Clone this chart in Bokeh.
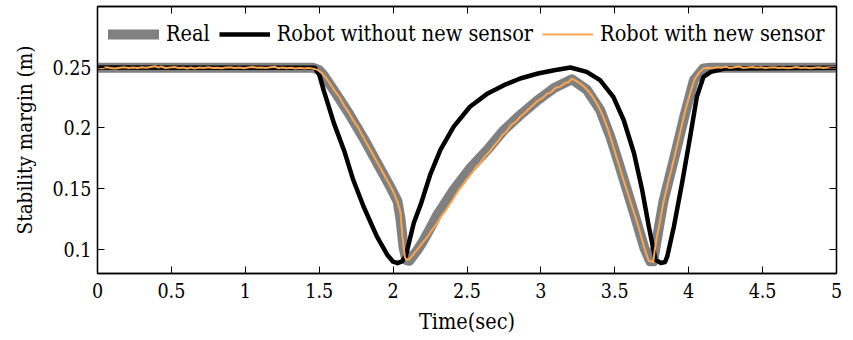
from bokeh.plotting import figure
from bokeh.models import Range1d, LinearAxis, FixedTicker, Legend, LegendItem
from bokeh.embed import file_html
from bokeh.resources import INLINE

# ---- tick positions and labels ----
x_ticks = [0, 0.5, 1, 1.5, 2, 2.5, 3, 3.5, 4, 4.5, 5]
x_tick_labels = ["0", "0.5", "1", "1.5", "2", "2.5", "3", "3.5", "4", "4.5", "5"]
y_ticks = [0.1, 0.15, 0.2, 0.25]
y_tick_labels = ["0.1", "0.15", "0.2", "0.25"]

# ---- measured stability margin (Real) ----
real_t = [0.0, 1.46, 1.50, 1.53, 1.60, 1.70, 1.80, 1.90, 1.98, 2.03, 2.05, 2.07,
          2.09, 2.11, 2.16, 2.20, 2.25, 2.30, 2.41, 2.52, 2.64, 2.75, 2.86, 2.98,
          3.09, 3.21, 3.31, 3.40, 3.47, 3.52, 3.63, 3.70, 3.74, 3.76, 3.79, 3.83,
          3.90, 3.97, 4.035, 4.10, 4.15, 5.0]
real_m = [0.2495, 0.2495, 0.2475, 0.2434, 0.2308, 0.2120, 0.1915, 0.1693, 0.1516,
          0.1395, 0.1250, 0.1020, 0.0910, 0.0905, 0.0985, 0.1060, 0.1170, 0.1285,
          0.1490, 0.1665, 0.1822, 0.1982, 0.2106, 0.2230, 0.2328, 0.2400, 0.2315,
          0.2150, 0.1927, 0.1736, 0.1298, 0.1010, 0.0900, 0.0900, 0.1120, 0.1400,
          0.1740, 0.2092, 0.2393, 0.2490, 0.2495, 0.2495]

# ---- estimate of the robot without the new sensor ----
old_t = [0.0, 1.47, 1.50, 1.53, 1.60, 1.67, 1.73, 1.80, 1.89, 1.96, 2.00, 2.03,
         2.06, 2.085, 2.14, 2.19, 2.25, 2.32, 2.41, 2.52, 2.64, 2.75, 2.86, 2.98,
         3.09, 3.20, 3.31, 3.40, 3.49, 3.56, 3.63, 3.685, 3.73, 3.775, 3.81, 3.84,
         3.855, 3.90, 3.955, 4.01, 4.055, 4.10, 4.15, 4.25, 5.0]
old_m = [0.2497, 0.2495, 0.2440, 0.2311, 0.2037, 0.1808, 0.1572, 0.1352, 0.1106,
         0.0955, 0.0897, 0.0885, 0.0900, 0.0941, 0.1216, 0.1380, 0.1610, 0.1818,
         0.2010, 0.2174, 0.2284, 0.2352, 0.2407, 0.2448, 0.2475, 0.2497, 0.2461,
         0.2393, 0.2256, 0.2065, 0.1791, 0.1489, 0.1188, 0.0914, 0.0887, 0.0895,
         0.0941, 0.1188, 0.1544, 0.1927, 0.2256, 0.2420, 0.2461, 0.2490, 0.2495]

# ---- estimate of the robot with the new sensor ----
new_t = [0.00, 0.03, 0.06, 0.09, 0.12, 0.15, 0.18, 0.21, 0.24, 0.27, 0.30, 0.33,
         0.36, 0.39, 0.41, 0.43, 0.46, 0.49, 0.52, 0.55, 0.58, 0.61, 0.63, 0.66,
         0.69, 0.72, 0.75, 0.78, 0.81, 0.84, 0.87, 0.90, 0.93, 0.96, 0.99, 1.02,
         1.05, 1.08, 1.11, 1.14, 1.17, 1.20, 1.22, 1.25, 1.28, 1.31, 1.34, 1.37,
         1.40, 1.43, 1.46, 1.49,
         1.52, 1.55, 1.58, 1.61, 1.64, 1.67, 1.70, 1.73, 1.76, 1.79, 1.82, 1.85,
         1.88, 1.91, 1.94, 1.97, 2.00, 2.03, 2.05, 2.06, 2.07, 2.08, 2.09, 2.11,
         2.14, 2.17, 2.20, 2.23, 2.26, 2.29, 2.32, 2.35, 2.38, 2.41, 2.44, 2.47,
         2.50, 2.53, 2.56, 2.59, 2.62, 2.65, 2.68, 2.71, 2.74, 2.77, 2.80, 2.83,
         2.86, 2.89, 2.92, 2.95, 2.98, 3.01, 3.04, 3.07, 3.10, 3.13, 3.16, 3.19,
         3.21, 3.24, 3.27, 3.30, 3.33, 3.36, 3.39, 3.42, 3.45, 3.48, 3.51, 3.54,
         3.57, 3.60, 3.63, 3.66, 3.69, 3.71, 3.73, 3.76, 3.77, 3.78, 3.80, 3.83,
         3.86, 3.89, 3.92, 3.95, 3.98, 4.01, 4.04, 4.07, 4.10,
         4.13, 4.16, 4.19, 4.22, 4.25, 4.28, 4.31, 4.34, 4.37, 4.40, 4.43, 4.46,
         4.49, 4.52, 4.55, 4.58, 4.61, 4.64, 4.67, 4.70, 4.73, 4.76, 4.79, 4.82,
         4.85, 4.88, 4.91, 4.94, 4.97, 5.00]
new_m = [0.2497, 0.2492, 0.2499, 0.2494, 0.2490, 0.2496, 0.2500, 0.2494, 0.2497,
         0.2493, 0.2499, 0.2495, 0.2502, 0.2508, 0.2496, 0.2505, 0.2493, 0.2497,
         0.2501, 0.2494, 0.2498, 0.2489, 0.2497, 0.2490, 0.2498, 0.2494, 0.2499,
         0.2493, 0.2496, 0.2491, 0.2497, 0.2500, 0.2494, 0.2498, 0.2492, 0.2497,
         0.2501, 0.2495, 0.2498, 0.2493, 0.2499, 0.2504, 0.2492, 0.2498, 0.2491,
         0.2496, 0.2490, 0.2494, 0.2489, 0.2493, 0.2488, 0.2478,
         0.2449, 0.2405, 0.2351, 0.2297, 0.2248, 0.2180, 0.2128, 0.2062, 0.2010,
         0.1941, 0.1876, 0.1812, 0.1743, 0.1680, 0.1611, 0.1545, 0.1477, 0.1390,
         0.1300, 0.1150, 0.1030, 0.0935, 0.0912, 0.0918, 0.0962, 0.1007, 0.1055,
         0.1098, 0.1152, 0.1200, 0.1262, 0.1310, 0.1365, 0.1420, 0.1480, 0.1528,
         0.1580, 0.1622, 0.1676, 0.1710, 0.1765, 0.1800, 0.1848, 0.1890, 0.1942,
         0.1975, 0.2025, 0.2050, 0.2092, 0.2122, 0.2158, 0.2190, 0.2225, 0.2245,
         0.2280, 0.2295, 0.2330, 0.2340, 0.2368, 0.2380, 0.2405, 0.2385, 0.2362,
         0.2330, 0.2290, 0.2238, 0.2175, 0.2095, 0.2000, 0.1885, 0.1765, 0.1645,
         0.1530, 0.1415, 0.1300, 0.1185, 0.1055, 0.0970, 0.0905, 0.0895, 0.0990,
         0.1070, 0.1195, 0.1390, 0.1548, 0.1692, 0.1846, 0.2003, 0.2158, 0.2285,
         0.2400, 0.2455, 0.2490,
         0.2495, 0.2492, 0.2499, 0.2496, 0.2503, 0.2494, 0.2500, 0.2506, 0.2493,
         0.2498, 0.2502, 0.2495, 0.2499, 0.2493, 0.2497, 0.2500, 0.2494, 0.2498,
         0.2492, 0.2496, 0.2501, 0.2494, 0.2497, 0.2491, 0.2495, 0.2499, 0.2493,
         0.2497, 0.2500, 0.2496]

FONT = "DejaVu Serif Condensed"
GRAY = "#808080"
BLACK = "#000000"
ORANGE = "#FBA54E"

p = figure(width=853, height=340,
           x_range=Range1d(0, 5), y_range=Range1d(0.08, 0.30),
           output_backend="svg", toolbar_location=None,
           min_border_left=97, min_border_right=17,
           min_border_top=6, min_border_bottom=67)
p.xgrid.visible = False
p.ygrid.visible = False
p.outline_line_color = "black"
p.outline_line_width = 1.3
p.background_fill_color = "white"
p.border_fill_color = "white"

r_real = p.line(real_t, real_m, line_color=GRAY, line_width=10, line_join="round", line_cap="round")
r_old = p.line(old_t, old_m, line_color=BLACK, line_width=4.5, line_join="round")
r_new = p.line(new_t, new_m, line_color=ORANGE, line_width=2, line_join="round")


def style_axis(ax, ticks, labels):
    ax.ticker = FixedTicker(ticks=ticks)
    ax.major_label_overrides = dict(zip(ticks, labels))
    ax.major_tick_in = 7
    ax.major_tick_out = 0
    ax.minor_tick_in = 0
    ax.minor_tick_out = 0
    ax.major_tick_line_color = "black"
    ax.major_tick_line_width = 1
    ax.axis_line_color = "black"
    ax.axis_line_width = 1.3
    ax.major_label_text_font = FONT
    ax.major_label_text_font_size = "19.5px"
    ax.major_label_text_color = "black"
    ax.axis_label_text_font = FONT
    ax.axis_label_text_font_size = "21.5px"
    ax.axis_label_text_font_style = "normal"
    ax.axis_label_text_color = "black"


xa = p.xaxis[0]
style_axis(xa, x_ticks, x_tick_labels)
xa.axis_label = "Time(sec)"
xa.major_label_standoff = 9
xa.axis_label_standoff = 8

ya = p.yaxis[0]
style_axis(ya, y_ticks, y_tick_labels)
ya.axis_label = "Stability margin (m)"
ya.axis_label_text_font_size = "20.5px"
ya.major_label_standoff = 6
ya.axis_label_standoff = 12

# mirrored tick marks on the top and right edges, without labels
top_ax = LinearAxis()
style_axis(top_ax, x_ticks, ["" for _ in x_ticks])
top_ax.major_label_standoff = 0
p.add_layout(top_ax, "above")

right_ax = LinearAxis()
style_axis(right_ax, y_ticks, ["" for _ in y_ticks])
right_ax.major_label_standoff = 0
p.add_layout(right_ax, "right")

legend = Legend(items=[LegendItem(label="Real", renderers=[r_real]),
                       LegendItem(label="Robot without new sensor", renderers=[r_old]),
                       LegendItem(label="Robot with new sensor", renderers=[r_new])],
                orientation="horizontal", location=(11, 227),
                glyph_width=51, glyph_height=20, label_standoff=7, spacing=9,
                padding=0, margin=0, border_line_alpha=0, background_fill_alpha=0,
                label_text_font=FONT, label_text_font_size="21.5px",
                label_text_color="black")
p.add_layout(legend)

open("out.html", "w").write(file_html(p, INLINE))
